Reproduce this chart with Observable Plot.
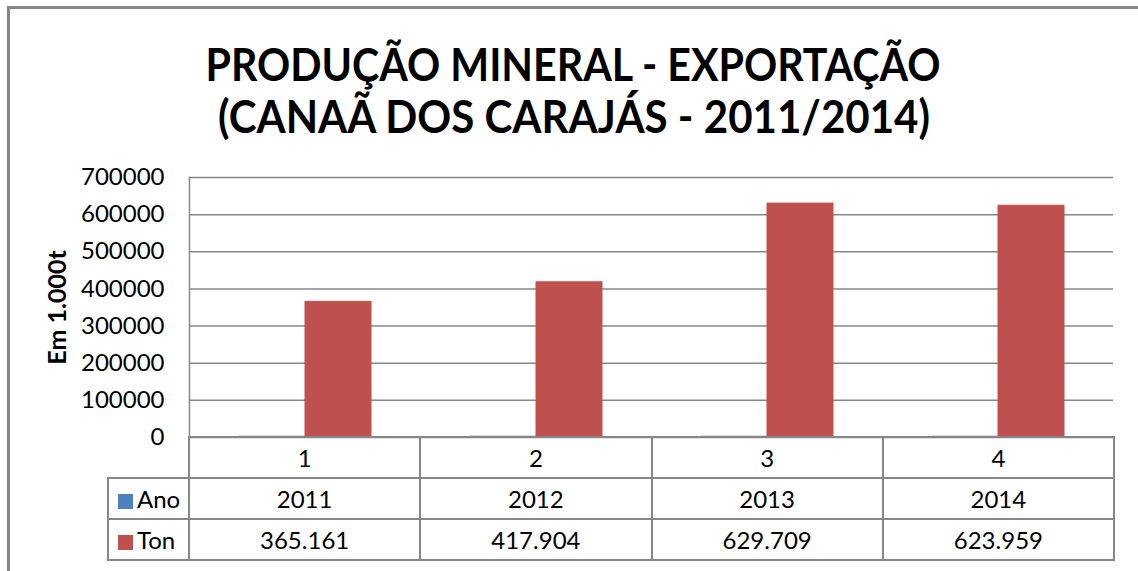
<!DOCTYPE html>
<html><head><meta charset="utf-8">
<script src="https://cdn.jsdelivr.net/npm/d3@7"></script>
<script src="https://cdn.jsdelivr.net/npm/@observablehq/plot@0.6"></script>
<style>
body{margin:0;background:#fff;}
#chart{position:relative;width:1138px;height:571px;overflow:hidden;font-family:Lato,sans-serif;background:#fff;}
#frame{position:absolute;left:7px;top:6px;width:1200px;height:700px;border-left:3px solid #878787;border-top:3px solid #878787;}
#title{position:absolute;left:0;top:0;}
#plot{position:absolute;left:0;top:160px;}
#dt{position:absolute;left:107px;top:436px;border-collapse:collapse;table-layout:fixed;font-size:24px;color:#000;}
#dt td{border:2px solid #878787;height:39px;padding:0;text-align:center;line-height:39px;white-space:nowrap;}
#dt td.key{text-align:left;padding-left:9px;}
#dt td.blank{border:none;}
.sw{display:inline-block;width:15px;height:15px;margin-right:4px;vertical-align:-1px;}
</style>
</head><body>
<div id="chart">
  <div id="frame"></div>
  <svg id="title" width="1138" height="160"></svg>
  <div id="plot"></div>
  <table id="dt"></table>
</div>
<script>
const titleLines = ["PRODUÇÃO MINERAL - EXPORTAÇÃO", "(CANAÃ DOS CARAJÁS - 2011/2014)"];
const yLabel = "Em 1.000t";
const categories = ["1", "2", "3", "4"];
const series = ["Ano", "Ton"];
const anoValues = [2011, 2012, 2013, 2014];
const tonValues = [365161, 417904, 629709, 623959];
const yTicks = [0, 100000, 200000, 300000, 400000, 500000, 600000, 700000];
const colors = ["#4F81BD", "#C0504D"];

const data = categories.flatMap((c, i) => [
  {cat: c, series: "Ano", value: anoValues[i]},
  {cat: c, series: "Ton", value: tonValues[i]}
]);

// Title
const tsvg = d3.select("#title");
const tLayout = [{x: 573, y: 81, len: 735}, {x: 574, y: 133, len: 712}];
tsvg.selectAll("text").data(titleLines).join("text")
  .attr("x", (d, i) => tLayout[i].x)
  .attr("y", (d, i) => tLayout[i].y)
  .attr("text-anchor", "middle")
  .attr("font-family", "Lato, sans-serif")
  .attr("font-weight", "bold")
  .attr("font-size", 46)
  .attr("textLength", (d, i) => tLayout[i].len)
  .attr("lengthAdjust", "spacingAndGlyphs")
  .attr("fill", "#000")
  .text(d => d);

const plot = Plot.plot({
  width: 1138, height: 280,
  marginTop: 17, marginBottom: 3, marginLeft: 188, marginRight: 25,
  style: {fontFamily: "Lato, sans-serif", fontSize: "24px", color: "#000", background: "transparent", overflow: "visible"},
  fx: {domain: categories, padding: 0, axis: null, label: null},
  x: {domain: series, paddingInner: 0, paddingOuter: 0.75, axis: null},
  y: {domain: [0, 700000], ticks: yTicks, tickSize: 0, tickPadding: 25, tickFormat: d => String(d),
      label: yLabel, labelAnchor: "center", labelArrow: "none", labelOffset: 141},
  color: {domain: series, range: colors},
  marks: [
    Plot.ruleY(yTicks, {stroke: "#878787", strokeWidth: 1.5}),
    Plot.barY(data, {fx: "cat", x: "series", y: "value", fill: "series", stroke: "series", strokeWidth: 1}),
    Plot.frame({anchor: "left", stroke: "#878787", strokeWidth: 1.5, facetAnchor: "left"})
  ]
});
const lab = d3.select(plot).select('g[aria-label="y-axis label"]');
lab.attr("font-weight", "bold").attr("font-size", 25);
lab.select("text").text(yLabel);
document.getElementById("plot").appendChild(plot);

// Data table
const ptBR = d3.formatLocale({decimal: ",", thousands: ".", grouping: [3], currency: ["R$", ""]});
const fmt = ptBR.format(",d");
const table = d3.select("#dt");
const cg = table.append("colgroup");
cg.append("col").style("width", "81px");
categories.forEach(() => cg.append("col").style("width", "231.25px"));
const r0 = table.append("tr");
r0.append("td").attr("class", "blank");
categories.forEach(c => r0.append("td").text(c));
const rows = [{name: "Ano", vals: anoValues.map(String)}, {name: "Ton", vals: tonValues.map(fmt)}];
rows.forEach((r, i) => {
  const tr = table.append("tr");
  const k = tr.append("td").attr("class", "key");
  k.append("span").attr("class", "sw").style("background", colors[i]);
  k.append("span").text(r.name);
  r.vals.forEach(v => tr.append("td").text(v));
});
</script>
</body></html>
